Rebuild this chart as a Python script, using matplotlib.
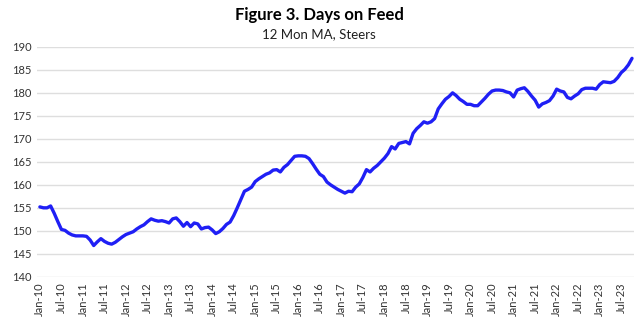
import matplotlib.pyplot as plt
import numpy as np

# monthly values, Jan-10 .. Oct-23 (12 month moving average, steers)
y2010 = [155.2, 155.0, 155.0, 155.4, 153.8, 152.0, 150.3, 150.1, 149.5, 149.1, 148.9, 148.9]
y2011 = [148.9, 148.8, 148.0, 146.8, 147.6, 148.3, 147.7, 147.3, 147.1, 147.5, 148.1, 148.7]
y2012 = [149.2, 149.5, 149.8, 150.4, 150.9, 151.3, 152.0, 152.6, 152.3, 152.1, 152.2, 152.0]
y2013 = [151.7, 152.6, 152.8, 152.0, 151.0, 151.8, 150.9, 151.7, 151.5, 150.4, 150.7, 150.8]
y2014 = [150.2, 149.4, 149.8, 150.5, 151.4, 151.9, 153.3, 155.0, 156.8, 158.6, 159.0, 159.5]
y2015 = [160.7, 161.3, 161.8, 162.3, 162.6, 163.2, 163.3, 162.8, 163.8, 164.4, 165.3, 166.2]
y2016 = [166.3, 166.3, 166.2, 165.7, 164.6, 163.4, 162.3, 161.8, 160.6, 160.0, 159.5, 159.0]
y2017 = [158.6, 158.2, 158.6, 158.5, 159.5, 160.2, 161.6, 163.3, 162.8, 163.6, 164.2, 165.0]
y2018 = [165.8, 166.8, 168.3, 167.8, 169.0, 169.2, 169.4, 168.9, 171.2, 172.2, 172.9, 173.7]
y2019 = [173.4, 173.7, 174.4, 176.5, 177.6, 178.6, 179.2, 180.0, 179.4, 178.6, 178.1, 177.5]
y2020 = [177.5, 177.2, 177.2, 178.0, 178.8, 179.7, 180.4, 180.6, 180.6, 180.5, 180.2, 180.0]
y2021 = [179.1, 180.6, 180.9, 181.1, 180.3, 179.3, 178.4, 176.9, 177.6, 177.9, 178.3, 179.3]
y2022 = [180.8, 180.4, 180.2, 179.0, 178.7, 179.3, 179.8, 180.7, 181.0, 181.0, 181.0, 180.8]
y2023 = [181.8, 182.4, 182.3, 182.2, 182.5, 183.3, 184.4, 185.1, 186.1, 187.5]

values = (y2010 + y2011 + y2012 + y2013 + y2014 + y2015 + y2016
          + y2017 + y2018 + y2019 + y2020 + y2021 + y2022 + y2023)
months = np.arange(len(values))

tick_labels = []
for yr in range(10, 24):
    tick_labels.append("Jan-" + str(yr))
    tick_labels.append("Jul-" + str(yr))

plt.rcParams['font.family'] = ['Lato', 'DejaVu Sans']

fig = plt.figure(figsize=(6.38, 3.23), dpi=100)
ax = fig.add_axes([0.058, 0.143, 0.936, 0.712])

ax.plot(months, values, color='#1f1ff5', linewidth=2.4, solid_capstyle='round')

ax.set_ylim(140, 190)
ax.set_yticks(np.arange(140, 191, 5))
ax.set_xlim(-0.8, 165.6)
ax.set_xticks(np.arange(0, len(tick_labels) * 6, 6))
ax.set_xticklabels(tick_labels, rotation=90)

ax.grid(axis='y', color='#dedede', linewidth=1)
ax.set_axisbelow(True)
for s in ax.spines.values():
    s.set_visible(False)
ax.tick_params(length=0, labelsize=8, colors='#333333', pad=4)

fig.text(0.5, 0.953, "Figure 3. Days on Feed", ha='center', va='center',
         fontsize=12, fontweight='bold', color='black')
fig.text(0.5, 0.893, "12 Mon MA, Steers", ha='center', va='center',
         fontsize=9.5, color='#202020')

plt.savefig("out.png", dpi=100)
